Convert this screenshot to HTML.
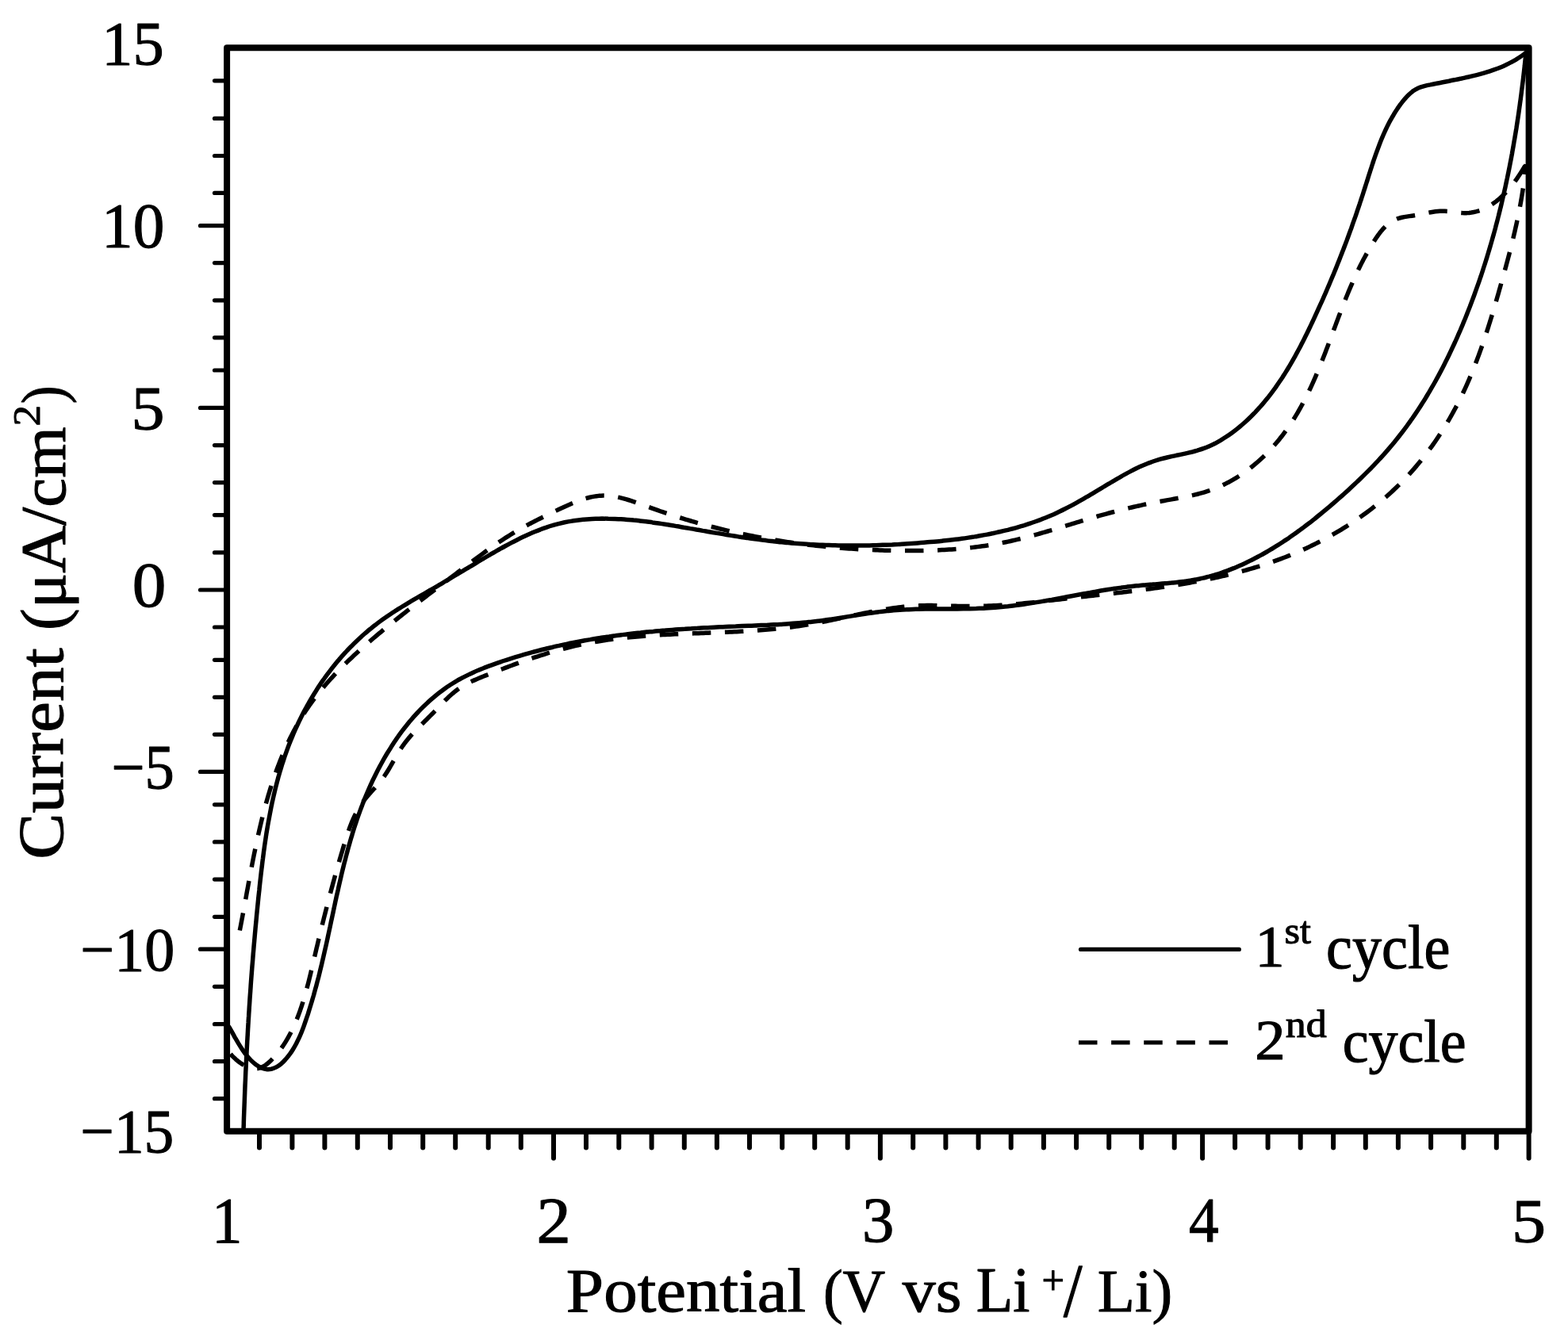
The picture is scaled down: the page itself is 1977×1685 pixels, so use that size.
<!DOCTYPE html>
<html><head><meta charset="utf-8"><title>Cyclic voltammogram</title>
<style>html,body{margin:0;padding:0;background:#fff;width:1977px;height:1685px;overflow:hidden}svg{display:block}</style>
</head><body>
<svg xmlns="http://www.w3.org/2000/svg" width="1977" height="1685" viewBox="0 0 1977 1685">
<defs><clipPath id="pc"><rect x="286.1" y="60.3" width="1641.5" height="1366.5"/></clipPath></defs>
<rect x="0" y="0" width="1977" height="1685" fill="#fff"/>
<g clip-path="url(#pc)">
<path d="M307.0,1426.0 C307.0,1424.7 307.2,1420.6 307.3,1417.9 C307.3,1415.3 307.4,1412.6 307.5,1409.9 C307.6,1407.2 307.7,1404.5 307.8,1401.9 C307.9,1399.2 308.0,1396.5 308.1,1393.8 C308.2,1391.2 308.3,1388.5 308.4,1385.8 C308.5,1383.1 308.6,1380.5 308.7,1377.8 C308.8,1375.1 308.9,1372.4 309.0,1369.8 C309.1,1367.1 309.3,1364.4 309.4,1361.8 C309.5,1359.1 309.6,1356.4 309.7,1353.8 C309.8,1351.1 310.0,1348.4 310.1,1345.8 C310.2,1343.1 310.3,1340.4 310.5,1337.8 C310.6,1335.1 310.7,1332.4 310.9,1329.8 C311.0,1327.1 311.1,1324.5 311.3,1321.8 C311.4,1319.1 311.6,1316.5 311.7,1313.8 C311.9,1311.2 312.0,1308.5 312.2,1305.8 C312.3,1303.2 312.5,1300.5 312.6,1297.9 C312.8,1295.2 312.9,1292.5 313.1,1289.9 C313.2,1287.2 313.4,1284.6 313.6,1281.9 C313.7,1279.3 313.9,1276.6 314.1,1274.0 C314.2,1271.3 314.4,1268.6 314.6,1266.0 C314.8,1263.3 314.9,1260.7 315.1,1258.0 C315.3,1255.4 315.5,1252.7 315.7,1250.1 C315.9,1247.4 316.1,1244.8 316.2,1242.1 C316.4,1239.4 316.6,1236.8 316.8,1234.1 C317.0,1231.5 317.2,1228.8 317.4,1226.2 C317.6,1223.5 317.8,1220.9 318.0,1218.2 C318.3,1215.6 318.5,1212.9 318.7,1210.3 C318.9,1207.6 319.1,1204.9 319.3,1202.3 C319.6,1199.6 319.8,1197.0 320.0,1194.3 C320.2,1191.7 320.5,1189.0 320.7,1186.4 C320.9,1183.7 321.2,1181.0 321.4,1178.4 C321.6,1175.7 321.9,1173.1 322.1,1170.4 C322.4,1167.8 322.6,1165.1 322.9,1162.4 C323.1,1159.8 323.4,1157.1 323.6,1154.5 C323.9,1151.8 324.1,1149.2 324.4,1146.5 C324.7,1143.8 324.9,1141.2 325.2,1138.5 C325.5,1135.8 325.7,1133.2 326.0,1130.5 C326.3,1127.9 326.6,1125.2 326.9,1122.5 C327.1,1119.9 327.4,1117.2 327.7,1114.5 C328.0,1111.9 328.3,1109.2 328.6,1106.5 C328.9,1103.9 329.2,1101.2 329.5,1098.6 C329.8,1095.9 330.2,1093.2 330.5,1090.6 C330.8,1087.9 331.1,1085.2 331.5,1082.6 C331.8,1079.9 332.2,1077.3 332.5,1074.6 C332.9,1071.9 333.3,1069.3 333.6,1066.6 C334.0,1064.0 334.4,1061.3 334.8,1058.7 C335.2,1056.0 335.6,1053.4 336.0,1050.7 C336.4,1048.1 336.9,1045.4 337.3,1042.8 C337.8,1040.2 338.2,1037.5 338.7,1034.9 C339.2,1032.3 339.7,1029.6 340.2,1027.0 C340.7,1024.4 341.2,1021.8 341.7,1019.2 C342.2,1016.5 342.8,1013.9 343.3,1011.3 C343.9,1008.7 344.5,1006.1 345.1,1003.5 C345.7,1000.9 346.3,998.3 346.9,995.8 C347.6,993.2 348.2,990.6 348.9,988.0 C349.5,985.4 350.2,982.9 350.9,980.3 C351.7,977.7 352.4,975.2 353.1,972.6 C353.9,970.1 354.7,967.6 355.4,965.0 C356.2,962.5 357.1,960.0 357.9,957.4 C358.7,954.9 359.6,952.4 360.5,949.9 C361.4,947.4 362.3,944.9 363.2,942.4 C364.1,939.9 365.1,937.4 366.1,935.0 C367.1,932.5 368.1,930.0 369.1,927.6 C370.1,925.1 371.2,922.7 372.3,920.2 C373.4,917.8 374.5,915.4 375.6,913.0 C376.7,910.6 377.9,908.2 379.1,905.8 C380.3,903.4 381.5,901.0 382.7,898.6 C383.9,896.3 385.2,893.9 386.5,891.6 C387.7,889.2 389.1,886.9 390.4,884.6 C391.7,882.3 393.1,880.0 394.5,877.7 C395.8,875.5 397.2,873.2 398.7,870.9 C400.1,868.7 401.6,866.5 403.0,864.3 C404.5,862.0 406.0,859.8 407.5,857.7 C409.1,855.5 410.6,853.3 412.2,851.2 C413.8,849.0 415.4,846.9 417.0,844.8 C418.6,842.7 420.3,840.6 422.0,838.5 C423.6,836.5 425.3,834.4 427.1,832.4 C428.8,830.4 430.5,828.4 432.3,826.4 C434.1,824.4 435.9,822.5 437.7,820.5 C439.5,818.6 441.4,816.7 443.3,814.8 C445.1,812.9 447.0,811.0 448.9,809.2 C450.9,807.3 452.8,805.5 454.8,803.7 C456.7,801.9 458.7,800.2 460.8,798.4 C462.8,796.7 464.8,794.9 466.9,793.3 C469.0,791.6 471.0,789.9 473.2,788.3 C475.3,786.6 477.4,785.0 479.6,783.4 C481.7,781.8 483.9,780.3 486.1,778.8 C488.3,777.2 490.5,775.7 492.8,774.2 C495.0,772.7 497.3,771.3 499.5,769.8 C501.8,768.4 504.1,766.9 506.4,765.5 C508.7,764.1 511.0,762.7 513.3,761.3 C515.6,759.9 517.9,758.5 520.2,757.2 C522.5,755.8 524.9,754.4 527.2,753.1 C529.5,751.7 531.8,750.4 534.2,749.1 C536.5,747.7 538.8,746.4 541.1,745.0 C543.4,743.7 545.8,742.4 548.1,741.1 C550.4,739.7 552.7,738.4 554.9,737.1 C557.2,735.7 559.5,734.4 561.8,733.0 C564.1,731.7 566.3,730.4 568.6,729.0 C570.8,727.7 573.1,726.3 575.3,725.0 C577.6,723.6 579.9,722.3 582.1,720.9 C584.4,719.6 586.6,718.2 588.9,716.9 C591.1,715.5 593.4,714.2 595.7,712.8 C597.9,711.4 600.2,710.1 602.5,708.7 C604.8,707.4 607.0,706.0 609.3,704.6 C611.6,703.3 614.0,701.9 616.3,700.5 C618.6,699.2 620.9,697.8 623.3,696.5 C625.6,695.1 628.0,693.8 630.3,692.4 C632.7,691.1 635.1,689.8 637.4,688.5 C639.8,687.2 642.2,685.9 644.6,684.6 C647.0,683.3 649.4,682.1 651.9,680.9 C654.3,679.7 656.7,678.5 659.2,677.3 C661.6,676.1 664.1,675.0 666.5,673.9 C669.0,672.8 671.5,671.7 673.9,670.7 C676.4,669.7 678.9,668.7 681.4,667.8 C683.9,666.8 686.4,665.9 689.0,665.1 C691.5,664.2 694.0,663.4 696.6,662.7 C699.1,661.9 701.7,661.2 704.2,660.6 C706.8,660.0 709.4,659.4 711.9,658.8 C714.5,658.3 717.1,657.8 719.7,657.4 C722.3,657.0 724.9,656.6 727.5,656.2 C730.1,655.9 732.7,655.6 735.4,655.3 C738.0,655.1 740.6,654.9 743.2,654.7 C745.9,654.5 748.5,654.4 751.1,654.3 C753.8,654.2 756.4,654.2 759.1,654.1 C761.7,654.1 764.4,654.1 767.0,654.2 C769.7,654.2 772.3,654.3 775.0,654.4 C777.6,654.5 780.3,654.6 782.9,654.8 C785.6,655.0 788.2,655.2 790.9,655.4 C793.5,655.6 796.2,655.8 798.8,656.1 C801.5,656.3 804.1,656.6 806.8,656.9 C809.4,657.2 812.0,657.5 814.7,657.8 C817.3,658.2 820.0,658.5 822.6,658.9 C825.3,659.2 827.9,659.6 830.5,660.0 C833.2,660.4 835.8,660.8 838.5,661.2 C841.1,661.6 843.7,662.1 846.4,662.5 C849.0,662.9 851.7,663.4 854.3,663.8 C857.0,664.3 859.6,664.7 862.2,665.2 C864.9,665.6 867.5,666.1 870.2,666.6 C872.8,667.0 875.5,667.5 878.1,668.0 C880.7,668.4 883.4,668.9 886.0,669.4 C888.7,669.8 891.3,670.3 894.0,670.7 C896.6,671.2 899.3,671.7 901.9,672.1 C904.6,672.6 907.2,673.0 909.9,673.4 C912.5,673.9 915.2,674.3 917.8,674.8 C920.5,675.2 923.1,675.6 925.8,676.0 C928.4,676.4 931.1,676.9 933.7,677.3 C936.4,677.7 939.0,678.1 941.7,678.4 C944.3,678.8 947.0,679.2 949.6,679.6 C952.3,679.9 955.0,680.3 957.6,680.6 C960.3,681.0 962.9,681.3 965.6,681.6 C968.2,682.0 970.9,682.3 973.5,682.6 C976.2,682.9 978.8,683.1 981.5,683.4 C984.1,683.7 986.8,683.9 989.4,684.2 C992.1,684.4 994.7,684.7 997.4,684.9 C1000.0,685.1 1002.7,685.3 1005.3,685.5 C1008.0,685.7 1010.6,685.9 1013.3,686.1 C1015.9,686.3 1018.6,686.4 1021.2,686.6 C1023.9,686.7 1026.5,686.9 1029.2,687.0 C1031.8,687.1 1034.5,687.2 1037.1,687.3 C1039.8,687.4 1042.4,687.5 1045.1,687.6 C1047.7,687.7 1050.4,687.8 1053.0,687.8 C1055.7,687.9 1058.3,687.9 1061.0,688.0 C1063.6,688.0 1066.3,688.0 1068.9,688.0 C1071.6,688.1 1074.3,688.1 1076.9,688.1 C1079.6,688.1 1082.2,688.0 1084.9,688.0 C1087.5,688.0 1090.2,688.0 1092.8,687.9 C1095.5,687.9 1098.2,687.8 1100.8,687.7 C1103.5,687.7 1106.1,687.6 1108.8,687.5 C1111.5,687.4 1114.1,687.3 1116.8,687.2 C1119.4,687.1 1122.1,687.0 1124.8,686.9 C1127.4,686.7 1130.1,686.6 1132.8,686.5 C1135.4,686.3 1138.1,686.2 1140.8,686.0 C1143.4,685.9 1146.1,685.7 1148.8,685.5 C1151.4,685.3 1154.1,685.1 1156.8,684.9 C1159.5,684.7 1162.1,684.5 1164.8,684.3 C1167.5,684.1 1170.2,683.9 1172.8,683.6 C1175.5,683.4 1178.2,683.2 1180.9,682.9 C1183.6,682.7 1186.2,682.4 1188.9,682.1 C1191.6,681.8 1194.3,681.5 1196.9,681.2 C1199.6,680.9 1202.3,680.6 1204.9,680.3 C1207.6,680.0 1210.3,679.6 1212.9,679.2 C1215.6,678.9 1218.3,678.5 1220.9,678.1 C1223.6,677.7 1226.2,677.3 1228.9,676.9 C1231.5,676.4 1234.2,676.0 1236.8,675.5 C1239.5,675.1 1242.1,674.6 1244.7,674.1 C1247.4,673.6 1250.0,673.0 1252.6,672.5 C1255.2,671.9 1257.8,671.4 1260.4,670.8 C1263.0,670.2 1265.6,669.6 1268.2,668.9 C1270.8,668.3 1273.4,667.6 1275.9,667.0 C1278.5,666.3 1281.1,665.6 1283.6,664.8 C1286.2,664.1 1288.7,663.3 1291.3,662.6 C1293.8,661.8 1296.3,661.0 1298.8,660.1 C1301.4,659.3 1303.9,658.4 1306.4,657.5 C1308.9,656.6 1311.3,655.7 1313.8,654.7 C1316.3,653.8 1318.7,652.8 1321.2,651.8 C1323.6,650.8 1326.1,649.7 1328.5,648.7 C1330.9,647.6 1333.3,646.5 1335.7,645.3 C1338.1,644.2 1340.5,643.0 1342.8,641.8 C1345.2,640.6 1347.6,639.4 1349.9,638.1 C1352.3,636.9 1354.6,635.6 1356.9,634.3 C1359.3,633.0 1361.6,631.7 1363.9,630.4 C1366.2,629.1 1368.5,627.7 1370.8,626.4 C1373.1,625.0 1375.4,623.7 1377.7,622.3 C1380.0,620.9 1382.3,619.5 1384.6,618.2 C1386.9,616.8 1389.2,615.4 1391.5,614.0 C1393.8,612.6 1396.1,611.3 1398.4,609.9 C1400.7,608.5 1402.9,607.1 1405.2,605.8 C1407.5,604.4 1409.8,603.1 1412.2,601.8 C1414.5,600.4 1416.8,599.1 1419.1,597.9 C1421.4,596.6 1423.8,595.3 1426.1,594.1 C1428.5,592.9 1430.8,591.7 1433.2,590.5 C1435.6,589.4 1438.0,588.3 1440.4,587.2 C1442.8,586.2 1445.3,585.2 1447.7,584.2 C1450.2,583.3 1452.6,582.4 1455.2,581.5 C1457.7,580.7 1460.2,579.9 1462.7,579.2 C1465.3,578.5 1467.9,577.8 1470.5,577.2 C1473.1,576.6 1475.7,576.0 1478.3,575.4 C1480.9,574.9 1483.6,574.3 1486.2,573.8 C1488.8,573.2 1491.4,572.7 1494.1,572.1 C1496.7,571.5 1499.3,570.9 1501.9,570.3 C1504.5,569.6 1507.1,568.9 1509.7,568.2 C1512.2,567.4 1514.8,566.6 1517.3,565.7 C1519.8,564.8 1522.3,563.8 1524.7,562.7 C1527.2,561.7 1529.6,560.5 1532.0,559.3 C1534.3,558.0 1536.7,556.7 1539.0,555.4 C1541.3,554.0 1543.6,552.6 1545.8,551.1 C1548.1,549.6 1550.3,548.1 1552.5,546.5 C1554.7,544.9 1556.8,543.3 1558.9,541.6 C1561.0,540.0 1563.1,538.2 1565.1,536.5 C1567.1,534.8 1569.1,533.0 1571.1,531.2 C1573.1,529.4 1575.0,527.6 1576.9,525.7 C1578.8,523.9 1580.6,522.0 1582.5,520.1 C1584.3,518.2 1586.1,516.2 1587.9,514.2 C1589.7,512.3 1591.4,510.3 1593.1,508.2 C1594.8,506.2 1596.5,504.2 1598.2,502.1 C1599.8,500.0 1601.4,497.9 1603.0,495.8 C1604.6,493.7 1606.2,491.5 1607.8,489.4 C1609.3,487.2 1610.8,485.0 1612.3,482.8 C1613.8,480.6 1615.3,478.4 1616.8,476.2 C1618.2,473.9 1619.7,471.7 1621.1,469.4 C1622.5,467.1 1623.9,464.8 1625.3,462.5 C1626.6,460.2 1628.0,457.9 1629.3,455.6 C1630.6,453.3 1632.0,450.9 1633.3,448.6 C1634.5,446.2 1635.8,443.9 1637.1,441.5 C1638.4,439.1 1639.6,436.8 1640.8,434.4 C1642.1,432.0 1643.3,429.6 1644.5,427.2 C1645.7,424.8 1646.9,422.4 1648.1,420.0 C1649.3,417.6 1650.4,415.2 1651.6,412.7 C1652.7,410.3 1653.9,407.9 1655.0,405.5 C1656.2,403.1 1657.3,400.6 1658.4,398.2 C1659.5,395.8 1660.6,393.4 1661.7,390.9 C1662.8,388.5 1663.9,386.1 1665.0,383.7 C1666.1,381.3 1667.2,378.8 1668.3,376.4 C1669.3,374.0 1670.4,371.6 1671.5,369.1 C1672.5,366.7 1673.6,364.3 1674.6,361.8 C1675.6,359.4 1676.7,357.0 1677.7,354.5 C1678.7,352.1 1679.7,349.7 1680.8,347.2 C1681.8,344.8 1682.8,342.3 1683.8,339.9 C1684.8,337.4 1685.7,335.0 1686.7,332.5 C1687.7,330.1 1688.7,327.6 1689.6,325.2 C1690.6,322.7 1691.6,320.3 1692.5,317.8 C1693.5,315.3 1694.4,312.8 1695.4,310.4 C1696.3,307.9 1697.2,305.4 1698.2,302.9 C1699.1,300.4 1700.0,298.0 1700.9,295.5 C1701.8,293.0 1702.7,290.5 1703.7,288.0 C1704.6,285.5 1705.4,282.9 1706.3,280.4 C1707.2,277.9 1708.1,275.4 1709.0,272.9 C1709.9,270.3 1710.7,267.8 1711.6,265.2 C1712.5,262.7 1713.3,260.2 1714.2,257.6 C1715.0,255.0 1715.9,252.5 1716.7,249.9 C1717.6,247.3 1718.4,244.8 1719.2,242.2 C1720.1,239.6 1720.9,237.0 1721.7,234.4 C1722.5,231.8 1723.4,229.2 1724.2,226.6 C1725.0,224.0 1725.8,221.4 1726.7,218.7 C1727.5,216.1 1728.3,213.5 1729.2,210.9 C1730.0,208.3 1730.9,205.7 1731.7,203.1 C1732.6,200.6 1733.5,198.0 1734.4,195.4 C1735.3,192.8 1736.2,190.3 1737.2,187.7 C1738.1,185.2 1739.1,182.7 1740.0,180.2 C1741.0,177.7 1742.0,175.2 1743.1,172.7 C1744.1,170.2 1745.2,167.8 1746.3,165.4 C1747.4,163.0 1748.6,160.6 1749.7,158.2 C1750.9,155.8 1752.1,153.5 1753.4,151.2 C1754.6,148.9 1755.9,146.6 1757.3,144.4 C1758.6,142.2 1760.0,140.0 1761.5,137.8 C1762.9,135.6 1764.4,133.5 1765.9,131.4 C1767.5,129.4 1769.0,127.3 1770.7,125.4 C1772.4,123.4 1774.1,121.4 1775.9,119.7 C1777.8,117.9 1779.7,116.3 1781.7,114.8 C1783.8,113.4 1786.0,112.2 1788.3,111.1 C1790.6,110.1 1793.1,109.4 1795.6,108.7 C1798.1,108.0 1800.7,107.4 1803.3,106.9 C1805.9,106.3 1808.5,105.8 1811.1,105.3 C1813.8,104.7 1816.4,104.2 1819.0,103.7 C1821.7,103.2 1824.3,102.7 1827.0,102.2 C1829.6,101.6 1832.3,101.1 1834.9,100.6 C1837.6,100.1 1840.2,99.5 1842.8,99.0 C1845.5,98.4 1848.1,97.9 1850.8,97.3 C1853.4,96.7 1856.0,96.1 1858.6,95.4 C1861.2,94.8 1863.8,94.1 1866.4,93.4 C1869.0,92.7 1871.6,92.0 1874.1,91.2 C1876.7,90.4 1879.2,89.6 1881.7,88.7 C1884.2,87.8 1886.7,86.9 1889.2,86.0 C1891.7,85.0 1894.1,84.0 1896.5,82.9 C1899.0,81.8 1901.3,80.6 1903.7,79.4 C1906.1,78.2 1908.4,76.9 1910.7,75.6 C1913.0,74.2 1915.2,72.8 1917.5,71.3 C1919.7,69.8 1922.9,67.3 1924.0,66.5" fill="none" stroke="#000" stroke-width="5.5" stroke-linecap="round" stroke-linejoin="round"/>
<path d="M1924.0,66.5 C1923.9,67.8 1923.5,71.8 1923.2,74.5 C1922.9,77.1 1922.6,79.8 1922.4,82.4 C1922.1,85.1 1921.8,87.7 1921.5,90.4 C1921.2,93.0 1920.9,95.7 1920.6,98.3 C1920.3,101.0 1920.0,103.7 1919.6,106.3 C1919.3,109.0 1919.0,111.6 1918.6,114.3 C1918.3,116.9 1918.0,119.6 1917.6,122.2 C1917.3,124.9 1916.9,127.5 1916.5,130.2 C1916.2,132.8 1915.8,135.5 1915.4,138.1 C1915.1,140.7 1914.7,143.4 1914.3,146.0 C1913.9,148.7 1913.5,151.3 1913.1,154.0 C1912.7,156.6 1912.3,159.3 1911.9,161.9 C1911.4,164.5 1911.0,167.2 1910.6,169.8 C1910.1,172.5 1909.7,175.1 1909.2,177.7 C1908.8,180.4 1908.3,183.0 1907.9,185.6 C1907.4,188.3 1906.9,190.9 1906.5,193.5 C1906.0,196.2 1905.5,198.8 1905.0,201.4 C1904.5,204.0 1904.0,206.7 1903.5,209.3 C1903.0,211.9 1902.4,214.5 1901.9,217.2 C1901.4,219.8 1900.8,222.4 1900.3,225.0 C1899.7,227.6 1899.2,230.2 1898.6,232.9 C1898.1,235.5 1897.5,238.1 1896.9,240.7 C1896.3,243.3 1895.7,245.9 1895.1,248.5 C1894.5,251.1 1893.9,253.7 1893.3,256.3 C1892.7,258.9 1892.1,261.5 1891.4,264.1 C1890.8,266.7 1890.1,269.3 1889.5,271.9 C1888.8,274.5 1888.2,277.1 1887.5,279.7 C1886.8,282.2 1886.1,284.8 1885.5,287.4 C1884.8,290.0 1884.1,292.6 1883.4,295.1 C1882.6,297.7 1881.9,300.3 1881.2,302.9 C1880.5,305.4 1879.7,308.0 1879.0,310.6 C1878.2,313.1 1877.5,315.7 1876.7,318.2 C1875.9,320.8 1875.1,323.4 1874.4,325.9 C1873.6,328.5 1872.8,331.0 1872.0,333.5 C1871.1,336.1 1870.3,338.6 1869.5,341.2 C1868.7,343.7 1867.8,346.3 1867.0,348.8 C1866.1,351.3 1865.3,353.8 1864.4,356.4 C1863.5,358.9 1862.6,361.4 1861.7,363.9 C1860.8,366.5 1859.9,369.0 1859.0,371.5 C1858.1,374.0 1857.2,376.5 1856.2,379.0 C1855.3,381.5 1854.3,384.0 1853.4,386.5 C1852.4,389.0 1851.4,391.5 1850.4,394.0 C1849.5,396.5 1848.5,398.9 1847.5,401.4 C1846.5,403.9 1845.4,406.4 1844.4,408.9 C1843.4,411.3 1842.3,413.8 1841.3,416.3 C1840.2,418.7 1839.2,421.2 1838.1,423.6 C1837.0,426.1 1835.9,428.5 1834.8,431.0 C1833.7,433.4 1832.6,435.8 1831.4,438.3 C1830.3,440.7 1829.2,443.1 1828.0,445.5 C1826.9,447.9 1825.7,450.4 1824.5,452.8 C1823.3,455.2 1822.1,457.5 1820.9,459.9 C1819.7,462.3 1818.5,464.7 1817.2,467.1 C1816.0,469.4 1814.7,471.8 1813.5,474.1 C1812.2,476.5 1810.9,478.8 1809.6,481.2 C1808.3,483.5 1807.0,485.8 1805.6,488.2 C1804.3,490.5 1803.0,492.8 1801.6,495.1 C1800.2,497.4 1798.9,499.7 1797.5,501.9 C1796.1,504.2 1794.7,506.5 1793.2,508.7 C1791.8,511.0 1790.4,513.2 1788.9,515.5 C1787.5,517.7 1786.0,519.9 1784.5,522.1 C1783.0,524.3 1781.5,526.5 1780.0,528.7 C1778.4,530.9 1776.9,533.1 1775.3,535.2 C1773.8,537.4 1772.2,539.5 1770.6,541.6 C1769.0,543.8 1767.4,545.9 1765.7,548.0 C1764.1,550.1 1762.5,552.2 1760.8,554.3 C1759.1,556.4 1757.4,558.4 1755.7,560.5 C1754.0,562.5 1752.3,564.5 1750.5,566.6 C1748.8,568.6 1747.0,570.6 1745.3,572.6 C1743.5,574.6 1741.7,576.6 1739.9,578.5 C1738.1,580.5 1736.3,582.5 1734.4,584.4 C1732.6,586.3 1730.7,588.3 1728.9,590.2 C1727.0,592.1 1725.1,594.0 1723.2,595.9 C1721.3,597.8 1719.4,599.7 1717.5,601.5 C1715.6,603.4 1713.7,605.3 1711.7,607.1 C1709.8,609.0 1707.8,610.8 1705.9,612.6 C1703.9,614.5 1702.0,616.3 1700.0,618.1 C1698.0,619.9 1696.0,621.7 1694.0,623.5 C1692.0,625.3 1690.0,627.0 1688.0,628.8 C1686.0,630.6 1684.0,632.3 1681.9,634.1 C1679.9,635.8 1677.9,637.6 1675.8,639.3 C1673.8,641.0 1671.7,642.7 1669.7,644.4 C1667.6,646.2 1665.6,647.9 1663.5,649.5 C1661.4,651.2 1659.3,652.9 1657.3,654.6 C1655.2,656.2 1653.1,657.9 1651.0,659.5 C1648.8,661.1 1646.7,662.7 1644.6,664.4 C1642.5,666.0 1640.3,667.5 1638.2,669.1 C1636.0,670.7 1633.9,672.2 1631.7,673.8 C1629.5,675.3 1627.3,676.8 1625.1,678.4 C1622.9,679.9 1620.7,681.3 1618.5,682.8 C1616.3,684.3 1614.0,685.7 1611.8,687.2 C1609.5,688.6 1607.2,690.0 1605.0,691.4 C1602.7,692.8 1600.4,694.1 1598.1,695.5 C1595.8,696.8 1593.4,698.2 1591.1,699.5 C1588.7,700.7 1586.4,702.0 1584.0,703.3 C1581.6,704.5 1579.2,705.8 1576.8,706.9 C1574.4,708.1 1572.0,709.3 1569.6,710.5 C1567.1,711.6 1564.7,712.7 1562.2,713.8 C1559.8,714.8 1557.3,715.9 1554.8,716.9 C1552.3,717.9 1549.8,718.9 1547.3,719.8 C1544.8,720.7 1542.3,721.6 1539.8,722.5 C1537.2,723.4 1534.7,724.2 1532.1,725.0 C1529.6,725.7 1527.0,726.5 1524.4,727.2 C1521.9,727.8 1519.3,728.5 1516.7,729.1 C1514.1,729.7 1511.5,730.2 1508.9,730.8 C1506.3,731.3 1503.6,731.7 1501.0,732.1 C1498.4,732.6 1495.7,732.9 1493.1,733.3 C1490.5,733.6 1487.8,734.0 1485.2,734.3 C1482.5,734.6 1479.8,734.8 1477.2,735.1 C1474.5,735.3 1471.9,735.6 1469.2,735.8 C1466.5,736.0 1463.9,736.2 1461.2,736.4 C1458.5,736.6 1455.8,736.8 1453.2,737.1 C1450.5,737.3 1447.8,737.5 1445.1,737.7 C1442.5,737.9 1439.8,738.2 1437.1,738.4 C1434.5,738.7 1431.8,738.9 1429.1,739.2 C1426.5,739.5 1423.8,739.8 1421.2,740.1 C1418.5,740.5 1415.8,740.8 1413.2,741.2 C1410.5,741.5 1407.9,741.9 1405.2,742.3 C1402.6,742.7 1399.9,743.1 1397.3,743.5 C1394.6,744.0 1392.0,744.4 1389.4,744.8 C1386.7,745.3 1384.1,745.7 1381.4,746.2 C1378.8,746.6 1376.2,747.1 1373.5,747.6 C1370.9,748.1 1368.3,748.5 1365.6,749.0 C1363.0,749.5 1360.4,750.0 1357.7,750.5 C1355.1,751.0 1352.5,751.5 1349.8,752.0 C1347.2,752.5 1344.6,753.0 1341.9,753.4 C1339.3,753.9 1336.7,754.4 1334.0,754.9 C1331.4,755.4 1328.8,755.9 1326.1,756.4 C1323.5,756.8 1320.9,757.3 1318.2,757.8 C1315.6,758.2 1313.0,758.7 1310.3,759.1 C1307.7,759.6 1305.1,760.0 1302.4,760.4 C1299.8,760.8 1297.2,761.2 1294.5,761.6 C1291.9,762.0 1289.2,762.4 1286.6,762.8 C1283.9,763.1 1281.3,763.5 1278.7,763.8 C1276.0,764.1 1273.4,764.5 1270.7,764.8 C1268.1,765.0 1265.4,765.3 1262.8,765.6 C1260.1,765.8 1257.4,766.0 1254.8,766.2 C1252.1,766.4 1249.5,766.6 1246.8,766.8 C1244.1,766.9 1241.5,767.1 1238.8,767.2 C1236.1,767.3 1233.5,767.4 1230.8,767.5 C1228.1,767.5 1225.4,767.6 1222.8,767.7 C1220.1,767.7 1217.4,767.8 1214.7,767.8 C1212.1,767.8 1209.4,767.8 1206.7,767.9 C1204.0,767.9 1201.3,767.9 1198.7,767.9 C1196.0,767.9 1193.3,767.9 1190.6,767.9 C1187.9,767.9 1185.3,767.9 1182.6,767.9 C1179.9,767.9 1177.2,767.9 1174.5,768.0 C1171.9,768.0 1169.2,768.0 1166.5,768.1 C1163.8,768.1 1161.2,768.1 1158.5,768.2 C1155.8,768.3 1153.1,768.3 1150.5,768.4 C1147.8,768.5 1145.1,768.6 1142.5,768.8 C1139.8,768.9 1137.1,769.0 1134.5,769.2 C1131.8,769.4 1129.2,769.6 1126.5,769.8 C1123.8,770.0 1121.2,770.3 1118.5,770.5 C1115.9,770.8 1113.2,771.1 1110.6,771.4 C1108.0,771.8 1105.3,772.1 1102.7,772.5 C1100.0,772.8 1097.4,773.2 1094.8,773.6 C1092.1,774.0 1089.5,774.4 1086.9,774.9 C1084.2,775.3 1081.6,775.7 1079.0,776.1 C1076.3,776.6 1073.7,777.0 1071.1,777.4 C1068.4,777.9 1065.8,778.3 1063.2,778.7 C1060.5,779.2 1057.9,779.6 1055.3,780.0 C1052.6,780.4 1050.0,780.8 1047.4,781.2 C1044.7,781.6 1042.1,782.0 1039.4,782.3 C1036.8,782.7 1034.1,783.0 1031.5,783.3 C1028.9,783.6 1026.2,783.9 1023.6,784.2 C1020.9,784.5 1018.2,784.7 1015.6,785.0 C1012.9,785.3 1010.3,785.5 1007.6,785.7 C1005.0,785.9 1002.3,786.1 999.6,786.3 C997.0,786.5 994.3,786.7 991.6,786.9 C989.0,787.1 986.3,787.2 983.6,787.4 C981.0,787.6 978.3,787.7 975.6,787.8 C973.0,788.0 970.3,788.1 967.6,788.3 C965.0,788.4 962.3,788.5 959.6,788.6 C956.9,788.7 954.3,788.9 951.6,789.0 C948.9,789.1 946.3,789.2 943.6,789.3 C940.9,789.4 938.2,789.5 935.6,789.6 C932.9,789.7 930.2,789.8 927.5,790.0 C924.9,790.1 922.2,790.2 919.5,790.3 C916.9,790.4 914.2,790.5 911.5,790.7 C908.8,790.8 906.2,790.9 903.5,791.0 C900.8,791.2 898.2,791.3 895.5,791.4 C892.8,791.6 890.1,791.7 887.5,791.8 C884.8,792.0 882.1,792.1 879.5,792.3 C876.8,792.4 874.1,792.6 871.5,792.8 C868.8,792.9 866.1,793.1 863.5,793.3 C860.8,793.4 858.2,793.6 855.5,793.8 C852.8,794.0 850.2,794.2 847.5,794.4 C844.8,794.6 842.2,794.8 839.5,795.0 C836.9,795.2 834.2,795.5 831.5,795.7 C828.9,795.9 826.2,796.1 823.6,796.4 C820.9,796.6 818.2,796.9 815.6,797.1 C812.9,797.4 810.3,797.7 807.6,798.0 C805.0,798.2 802.3,798.5 799.7,798.8 C797.0,799.1 794.4,799.4 791.7,799.7 C789.1,800.1 786.4,800.4 783.8,800.7 C781.1,801.1 778.5,801.4 775.8,801.8 C773.2,802.1 770.5,802.5 767.9,802.9 C765.3,803.2 762.6,803.6 760.0,804.0 C757.3,804.4 754.7,804.9 752.1,805.3 C749.4,805.7 746.8,806.1 744.2,806.6 C741.5,807.0 738.9,807.5 736.2,808.0 C733.6,808.5 731.0,809.0 728.4,809.5 C725.7,810.0 723.1,810.5 720.5,811.0 C717.8,811.5 715.2,812.1 712.6,812.6 C710.0,813.2 707.4,813.8 704.7,814.4 C702.1,814.9 699.5,815.5 696.9,816.2 C694.3,816.8 691.7,817.4 689.0,818.0 C686.4,818.7 683.8,819.3 681.2,820.0 C678.6,820.7 676.0,821.4 673.4,822.0 C670.9,822.7 668.3,823.5 665.7,824.2 C663.1,824.9 660.5,825.6 657.9,826.4 C655.4,827.1 652.8,827.9 650.2,828.7 C647.7,829.5 645.1,830.3 642.5,831.1 C640.0,831.9 637.4,832.7 634.9,833.5 C632.4,834.4 629.8,835.2 627.3,836.1 C624.8,837.0 622.3,837.9 619.8,838.8 C617.3,839.7 614.8,840.6 612.3,841.6 C609.8,842.6 607.3,843.5 604.9,844.6 C602.5,845.6 600.0,846.6 597.6,847.7 C595.2,848.8 592.8,849.9 590.4,851.1 C588.1,852.2 585.7,853.4 583.4,854.6 C581.1,855.9 578.8,857.1 576.5,858.4 C574.2,859.7 572.0,861.1 569.8,862.5 C567.5,863.9 565.4,865.4 563.2,866.8 C561.0,868.3 558.9,869.9 556.8,871.5 C554.7,873.0 552.6,874.6 550.5,876.3 C548.5,878.0 546.5,879.7 544.5,881.4 C542.5,883.1 540.5,884.9 538.6,886.7 C536.6,888.5 534.7,890.4 532.8,892.3 C530.9,894.1 529.1,896.0 527.2,898.0 C525.4,899.9 523.6,901.9 521.8,903.9 C520.0,905.9 518.3,908.0 516.5,910.0 C514.8,912.1 513.1,914.2 511.5,916.3 C509.8,918.4 508.1,920.6 506.5,922.7 C504.9,924.9 503.3,927.1 501.7,929.3 C500.2,931.5 498.6,933.8 497.1,936.0 C495.6,938.3 494.1,940.6 492.7,942.9 C491.2,945.2 489.8,947.5 488.4,949.8 C487.0,952.1 485.6,954.5 484.2,956.9 C482.9,959.2 481.6,961.6 480.3,964.0 C479.0,966.4 477.7,968.8 476.4,971.2 C475.2,973.6 474.0,976.0 472.8,978.5 C471.6,980.9 470.4,983.3 469.2,985.8 C468.1,988.2 467.0,990.7 465.9,993.1 C464.8,995.6 463.7,998.1 462.7,1000.5 C461.6,1003.0 460.6,1005.5 459.6,1007.9 C458.6,1010.4 457.6,1012.9 456.7,1015.4 C455.7,1017.9 454.8,1020.4 453.9,1022.9 C453.0,1025.4 452.1,1027.9 451.2,1030.4 C450.3,1032.9 449.5,1035.4 448.7,1037.9 C447.8,1040.5 447.0,1043.0 446.2,1045.5 C445.4,1048.0 444.6,1050.6 443.9,1053.1 C443.1,1055.6 442.3,1058.2 441.6,1060.7 C440.9,1063.3 440.2,1065.8 439.4,1068.4 C438.7,1070.9 438.0,1073.5 437.4,1076.0 C436.7,1078.6 436.0,1081.1 435.4,1083.7 C434.7,1086.2 434.0,1088.8 433.4,1091.4 C432.8,1094.0 432.1,1096.5 431.5,1099.1 C430.9,1101.7 430.3,1104.2 429.7,1106.8 C429.1,1109.4 428.5,1112.0 427.9,1114.6 C427.3,1117.2 426.7,1119.7 426.2,1122.3 C425.6,1124.9 425.0,1127.5 424.4,1130.1 C423.9,1132.7 423.3,1135.3 422.7,1137.9 C422.2,1140.5 421.6,1143.1 421.1,1145.7 C420.5,1148.3 420.0,1150.9 419.4,1153.5 C418.9,1156.1 418.3,1158.7 417.7,1161.3 C417.2,1163.9 416.6,1166.5 416.1,1169.1 C415.5,1171.7 415.0,1174.3 414.4,1176.9 C413.8,1179.5 413.3,1182.2 412.7,1184.8 C412.1,1187.4 411.6,1190.0 411.0,1192.6 C410.4,1195.2 409.8,1197.8 409.2,1200.4 C408.6,1203.0 408.0,1205.6 407.4,1208.3 C406.8,1210.9 406.2,1213.5 405.6,1216.1 C405.0,1218.7 404.3,1221.3 403.7,1223.9 C403.1,1226.5 402.4,1229.1 401.8,1231.7 C401.1,1234.4 400.4,1237.0 399.7,1239.6 C399.1,1242.2 398.4,1244.8 397.6,1247.4 C396.9,1250.0 396.2,1252.6 395.5,1255.2 C394.7,1257.8 394.0,1260.4 393.2,1263.0 C392.4,1265.6 391.6,1268.2 390.8,1270.8 C390.0,1273.4 389.2,1276.0 388.4,1278.6 C387.5,1281.2 386.7,1283.8 385.8,1286.3 C384.9,1288.9 384.0,1291.5 383.1,1294.1 C382.2,1296.6 381.2,1299.2 380.2,1301.7 C379.1,1304.3 378.1,1306.8 377.0,1309.2 C375.8,1311.7 374.6,1314.1 373.4,1316.5 C372.1,1318.9 370.8,1321.2 369.4,1323.5 C368.0,1325.8 366.5,1328.1 364.9,1330.2 C363.3,1332.4 361.6,1334.5 359.8,1336.4 C358.1,1338.4 356.2,1340.2 354.3,1341.8 C352.4,1343.4 350.4,1344.8 348.4,1345.9 C346.3,1347.0 344.3,1347.8 342.1,1348.3 C340.0,1348.7 337.8,1348.8 335.7,1348.5 C333.5,1348.2 331.3,1347.5 329.1,1346.6 C327.0,1345.6 324.8,1344.3 322.7,1342.8 C320.6,1341.2 318.5,1339.4 316.5,1337.4 C314.5,1335.4 312.5,1333.1 310.6,1330.8 C308.8,1328.5 307.0,1325.9 305.3,1323.4 C303.6,1320.8 302.0,1318.2 300.4,1315.6 C298.9,1313.1 297.4,1310.5 296.0,1308.1 C294.7,1305.7 293.4,1303.3 292.2,1301.2 C291.0,1299.1 289.5,1296.5 288.9,1295.5" fill="none" stroke="#000" stroke-width="5.5" stroke-linecap="round" stroke-linejoin="round"/>
<path d="M302.30,1173.60 L302.85,1170.75 L303.40,1167.90 L303.95,1165.05 L304.49,1162.18 L305.04,1159.31 L305.58,1156.43 L306.12,1153.54 L306.65,1150.64 L307.19,1147.74 L307.73,1144.83 L308.26,1141.92 L308.80,1139.00 L309.33,1136.08 L309.87,1133.15 L310.41,1130.21 L310.94,1127.27 L311.48,1124.33 L312.02,1121.38 L312.57,1118.43 L313.11,1115.47 L313.66,1112.51 L314.21,1109.55 L314.76,1106.58 L315.32,1103.61 L315.88,1100.64 L316.44,1097.67 L317.01,1094.69 L317.58,1091.72 L318.16,1088.74 L318.75,1085.76 L319.33,1082.78 L319.93,1079.80 L320.53,1076.81 L321.14,1073.83 L321.75,1070.85 L322.37,1067.87 L323.00,1064.89 L323.64,1061.91 L324.28,1058.93 L324.93,1055.95 L325.59,1052.97 L326.26,1050.00 L326.94,1047.02 L327.63,1044.05 L328.33,1041.09 L329.04,1038.12 L329.75,1035.16 L330.48,1032.20 L331.22,1029.25 L331.97,1026.30 L332.74,1023.35 L333.51,1020.41 L334.30,1017.47 L335.09,1014.54 L335.91,1011.61 L336.73,1008.69 L337.57,1005.77 L338.42,1002.86 L339.28,999.95 L340.16,997.06 L341.06,994.16 L341.97,991.28 L342.89,988.40 L343.83,985.53 L344.78,982.67 L345.75,979.81 L346.74,976.97 L347.74,974.13 L348.76,971.30 L349.80,968.48 L350.86,965.67 L351.93,962.87 L353.02,960.07 L354.13,957.29 L355.26,954.52 L356.41,951.76 L357.57,949.01 L358.76,946.27 L359.96,943.54 L361.19,940.82 L362.44,938.11 L363.70,935.42 L364.99,932.74 L366.30,930.07 L367.63,927.41 L368.99,924.77 L370.36,922.14 L371.76,919.52 L373.18,916.92 L374.63,914.33 L376.09,911.76 L377.59,909.20 L379.10,906.65 L380.64,904.12 L382.21,901.61 L383.80,899.11 L385.41,896.62 L387.05,894.15 L388.72,891.70 L390.41,889.27 L392.13,886.85 L393.87,884.44 L395.63,882.05 L397.42,879.68 L399.23,877.32 L401.07,874.98 L402.93,872.65 L404.80,870.34 L406.70,868.04 L408.62,865.76 L410.56,863.49 L412.52,861.23 L414.50,858.99 L416.50,856.76 L418.52,854.54 L420.55,852.34 L422.60,850.15 L424.67,847.97 L426.75,845.80 L428.85,843.65 L430.96,841.51 L433.09,839.38 L435.23,837.26 L437.39,835.15 L439.56,833.06 L441.74,830.97 L443.93,828.90 L446.14,826.83 L448.35,824.78 L450.58,822.74 L452.82,820.71 L455.07,818.68 L457.32,816.67 L459.59,814.67 L461.86,812.67 L464.14,810.69 L466.43,808.71 L468.72,806.74 L471.02,804.78 L473.32,802.83 L475.64,800.89 L477.95,798.95 L480.27,797.02 L482.59,795.10 L484.92,793.19 L487.25,791.28 L489.58,789.38 L491.92,787.49 L494.26,785.60 L496.60,783.72 L498.94,781.85 L501.29,779.98 L503.64,778.12 L505.99,776.26 L508.34,774.40 L510.70,772.56 L513.06,770.71 L515.42,768.87 L517.78,767.04 L520.15,765.20 L522.51,763.38 L524.88,761.55 L527.25,759.73 L529.63,757.91 L532.00,756.09 L534.38,754.28 L536.75,752.47 L539.13,750.66 L541.51,748.85 L543.90,747.05 L546.28,745.24 L548.66,743.44 L551.05,741.64 L553.43,739.83 L555.82,738.03 L558.21,736.23 L560.59,734.43 L562.98,732.63 L565.37,730.83 L567.76,729.02 L570.15,727.22 L572.54,725.42 L574.93,723.61 L577.32,721.80 L579.72,720.00 L582.11,718.18 L584.50,716.37 L586.89,714.56 L589.28,712.74 L591.68,710.93 L594.07,709.12 L596.47,707.32 L598.88,705.51 L601.28,703.71 L603.69,701.92 L606.11,700.13 L608.52,698.35 L610.95,696.58 L613.38,694.82 L615.81,693.07 L618.26,691.33 L620.71,689.60 L623.16,687.88 L625.63,686.18 L628.10,684.49 L630.59,682.82 L633.08,681.17 L635.58,679.53 L638.09,677.91 L640.62,676.31 L643.15,674.73 L645.70,673.17 L648.26,671.63 L650.83,670.11 L653.41,668.61 L656.00,667.13 L658.61,665.67 L661.22,664.23 L663.85,662.80 L666.49,661.39 L669.14,659.99 L671.79,658.61 L674.46,657.23 L677.14,655.87 L679.83,654.51 L682.52,653.17 L685.23,651.83 L687.94,650.49 L690.66,649.17 L693.39,647.84 L696.13,646.52 L698.87,645.20 L701.63,643.89 L704.39,642.57 L707.15,641.25 L709.93,639.95 L712.71,638.66 L715.49,637.39 L718.29,636.15 L721.08,634.95 L723.89,633.78 L726.69,632.66 L729.51,631.60 L732.33,630.59 L735.15,629.64 L737.97,628.77 L740.80,627.97 L743.64,627.26 L746.47,626.64 L749.31,626.11 L752.16,625.68 L755.00,625.36 L757.85,625.16 L760.70,625.07 L763.55,625.10 L766.40,625.24 L769.26,625.49 L772.12,625.84 L774.97,626.28 L777.83,626.80 L780.70,627.41 L783.56,628.09 L786.43,628.83 L789.29,629.64 L792.16,630.49 L795.03,631.40 L797.91,632.35 L800.78,633.33 L803.65,634.34 L806.53,635.38 L809.41,636.42 L812.29,637.48 L815.17,638.54 L818.05,639.60 L820.93,640.65 L823.82,641.69 L826.70,642.71 L829.59,643.72 L832.48,644.73 L835.37,645.72 L838.26,646.70 L841.15,647.67 L844.04,648.63 L846.94,649.57 L849.83,650.51 L852.73,651.43 L855.63,652.35 L858.53,653.25 L861.43,654.14 L864.33,655.02 L867.23,655.89 L870.14,656.75 L873.04,657.60 L875.95,658.44 L878.86,659.27 L881.76,660.08 L884.67,660.89 L887.59,661.68 L890.50,662.47 L893.41,663.24 L896.33,664.01 L899.24,664.76 L902.16,665.51 L905.08,666.24 L908.00,666.96 L910.92,667.67 L913.85,668.38 L916.77,669.07 L919.69,669.75 L922.62,670.42 L925.55,671.08 L928.48,671.73 L931.41,672.38 L934.34,673.01 L937.27,673.63 L940.20,674.24 L943.14,674.84 L946.08,675.43 L949.01,676.02 L951.95,676.59 L954.89,677.15 L957.83,677.70 L960.77,678.25 L963.72,678.78 L966.66,679.31 L969.61,679.82 L972.56,680.33 L975.50,680.82 L978.45,681.31 L981.41,681.79 L984.36,682.25 L987.31,682.71 L990.27,683.16 L993.22,683.60 L996.18,684.03 L999.14,684.45 L1002.10,684.86 L1005.06,685.27 L1008.02,685.66 L1010.98,686.05 L1013.95,686.42 L1016.91,686.79 L1019.88,687.15 L1022.85,687.50 L1025.81,687.84 L1028.78,688.17 L1031.76,688.49 L1034.73,688.81 L1037.70,689.11 L1040.68,689.41 L1043.65,689.70 L1046.63,689.98 L1049.61,690.25 L1052.59,690.51 L1055.57,690.77 L1058.56,691.01 L1061.54,691.25 L1064.52,691.48 L1067.51,691.70 L1070.50,691.91 L1073.49,692.12 L1076.48,692.31 L1079.47,692.50 L1082.46,692.68 L1085.45,692.85 L1088.45,693.02 L1091.44,693.17 L1094.44,693.32 L1097.44,693.46 L1100.44,693.59 L1103.44,693.72 L1106.44,693.83 L1109.44,693.94 L1112.45,694.04 L1115.45,694.13 L1118.46,694.22 L1121.47,694.30 L1124.48,694.37 L1127.49,694.43 L1130.50,694.48 L1133.51,694.53 L1136.52,694.56 L1139.54,694.59 L1142.55,694.61 L1145.57,694.62 L1148.58,694.62 L1151.60,694.61 L1154.61,694.59 L1157.63,694.56 L1160.64,694.52 L1163.66,694.47 L1166.67,694.40 L1169.68,694.33 L1172.70,694.24 L1175.71,694.14 L1178.72,694.03 L1181.73,693.91 L1184.74,693.77 L1187.75,693.62 L1190.76,693.46 L1193.76,693.29 L1196.77,693.10 L1199.77,692.89 L1202.77,692.67 L1205.77,692.44 L1208.76,692.19 L1211.76,691.93 L1214.75,691.65 L1217.74,691.36 L1220.73,691.05 L1223.71,690.72 L1226.70,690.38 L1229.68,690.02 L1232.65,689.64 L1235.63,689.25 L1238.60,688.84 L1241.57,688.41 L1244.53,687.96 L1247.49,687.50 L1250.45,687.02 L1253.40,686.51 L1256.35,685.99 L1259.29,685.45 L1262.24,684.89 L1265.17,684.31 L1268.11,683.71 L1271.03,683.09 L1273.96,682.45 L1276.88,681.80 L1279.80,681.12 L1282.71,680.43 L1285.62,679.73 L1288.53,679.00 L1291.43,678.27 L1294.33,677.52 L1297.23,676.75 L1300.12,675.98 L1303.01,675.19 L1305.90,674.39 L1308.79,673.58 L1311.67,672.76 L1314.55,671.94 L1317.43,671.10 L1320.31,670.26 L1323.19,669.41 L1326.06,668.55 L1328.94,667.69 L1331.81,666.83 L1334.68,665.96 L1337.55,665.08 L1340.42,664.21 L1343.28,663.33 L1346.15,662.45 L1349.02,661.57 L1351.88,660.69 L1354.75,659.82 L1357.61,658.94 L1360.48,658.07 L1363.34,657.20 L1366.21,656.33 L1369.08,655.47 L1371.94,654.62 L1374.81,653.77 L1377.68,652.92 L1380.55,652.09 L1383.42,651.26 L1386.29,650.44 L1389.16,649.63 L1392.03,648.83 L1394.91,648.04 L1397.79,647.25 L1400.67,646.48 L1403.55,645.72 L1406.44,644.96 L1409.33,644.22 L1412.22,643.48 L1415.11,642.76 L1418.01,642.04 L1420.91,641.33 L1423.82,640.64 L1426.73,639.95 L1429.64,639.28 L1432.56,638.61 L1435.48,637.96 L1438.41,637.31 L1441.35,636.68 L1444.29,636.05 L1447.23,635.44 L1450.18,634.84 L1453.14,634.24 L1456.10,633.66 L1459.07,633.09 L1462.05,632.53 L1465.03,631.98 L1468.02,631.45 L1471.01,630.91 L1474.01,630.39 L1477.01,629.86 L1480.01,629.33 L1483.02,628.79 L1486.01,628.25 L1489.01,627.69 L1492.00,627.12 L1494.99,626.53 L1497.96,625.93 L1500.93,625.29 L1503.89,624.63 L1506.84,623.94 L1509.77,623.21 L1512.69,622.45 L1515.59,621.65 L1518.48,620.81 L1521.34,619.91 L1524.19,618.98 L1527.01,617.99 L1529.82,616.94 L1532.60,615.85 L1535.36,614.71 L1538.10,613.52 L1540.81,612.28 L1543.50,610.99 L1546.17,609.66 L1548.82,608.29 L1551.44,606.86 L1554.04,605.40 L1556.61,603.89 L1559.16,602.34 L1561.69,600.75 L1564.19,599.11 L1566.67,597.44 L1569.12,595.73 L1571.54,593.98 L1573.95,592.20 L1576.32,590.37 L1578.67,588.52 L1580.99,586.62 L1583.29,584.70 L1585.56,582.74 L1587.81,580.75 L1590.02,578.72 L1592.21,576.67 L1594.37,574.59 L1596.51,572.47 L1598.62,570.33 L1600.70,568.17 L1602.75,565.97 L1604.77,563.75 L1606.76,561.51 L1608.73,559.24 L1610.66,556.95 L1612.57,554.63 L1614.44,552.30 L1616.29,549.94 L1618.11,547.57 L1619.89,545.17 L1621.65,542.76 L1623.38,540.33 L1625.08,537.88 L1626.74,535.42 L1628.39,532.93 L1630.00,530.44 L1631.59,527.92 L1633.15,525.39 L1634.69,522.85 L1636.20,520.29 L1637.69,517.71 L1639.15,515.13 L1640.59,512.52 L1642.01,509.91 L1643.41,507.28 L1644.79,504.64 L1646.15,501.99 L1647.49,499.32 L1648.81,496.65 L1650.11,493.96 L1651.39,491.26 L1652.66,488.56 L1653.91,485.84 L1655.15,483.11 L1656.37,480.38 L1657.57,477.63 L1658.77,474.88 L1659.94,472.12 L1661.11,469.35 L1662.27,466.58 L1663.41,463.79 L1664.55,461.00 L1665.67,458.21 L1666.78,455.41 L1667.89,452.60 L1668.99,449.79 L1670.08,446.98 L1671.16,444.16 L1672.24,441.34 L1673.32,438.51 L1674.38,435.68 L1675.45,432.85 L1676.51,430.02 L1677.57,427.18 L1678.62,424.34 L1679.68,421.50 L1680.73,418.66 L1681.79,415.82 L1682.84,412.99 L1683.90,410.15 L1684.95,407.31 L1686.01,404.47 L1687.07,401.64 L1688.14,398.80 L1689.21,395.97 L1690.29,393.14 L1691.37,390.32 L1692.45,387.50 L1693.55,384.68 L1694.65,381.86 L1695.76,379.06 L1696.88,376.25 L1698.01,373.45 L1699.14,370.66 L1700.29,367.87 L1701.45,365.09 L1702.62,362.32 L1703.81,359.55 L1705.01,356.79 L1706.22,354.04 L1707.44,351.30 L1708.69,348.57 L1709.94,345.85 L1711.22,343.13 L1712.51,340.43 L1713.82,337.73 L1715.14,335.05 L1716.49,332.38 L1717.86,329.72 L1719.24,327.07 L1720.65,324.43 L1722.08,321.81 L1723.53,319.20 L1725.00,316.60 L1726.50,314.01 L1728.02,311.44 L1729.57,308.89 L1731.14,306.35 L1732.74,303.82 L1734.37,301.32 L1736.02,298.83 L1737.73,296.39 L1739.48,294.00 L1741.29,291.67 L1743.17,289.43 L1745.12,287.28 L1747.16,285.23 L1749.30,283.31 L1751.54,281.52 L1753.88,279.87 L1756.35,278.39 L1758.95,277.08 L1761.69,275.96 L1764.56,275.03 L1767.56,274.28 L1770.65,273.66 L1773.80,273.13 L1776.97,272.65 L1780.14,272.18 L1783.26,271.68 L1786.33,271.13 L1789.35,270.55 L1792.33,269.95 L1795.29,269.35 L1798.21,268.76 L1801.12,268.19 L1804.03,267.67 L1806.93,267.21 L1809.84,266.82 L1812.76,266.51 L1815.70,266.31 L1818.68,266.22 L1821.69,266.26 L1824.75,266.45 L1827.85,266.76 L1830.97,267.15 L1834.11,267.58 L1837.25,267.99 L1840.37,268.35 L1843.46,268.59 L1846.50,268.69 L1849.50,268.63 L1852.45,268.42 L1855.36,268.05 L1858.21,267.54 L1861.02,266.89 L1863.78,266.11 L1866.50,265.20 L1869.17,264.16 L1871.79,263.00 L1874.37,261.73 L1876.89,260.35 L1879.38,258.86 L1881.81,257.27 L1884.21,255.59 L1886.55,253.82 L1888.85,251.96 L1891.10,250.02 L1893.31,248.01 L1895.47,245.92 L1897.59,243.77 L1899.66,241.56 L1901.69,239.30 L1903.67,236.98 L1905.61,234.62 L1907.50,232.21 L1909.35,229.77 L1911.15,227.30 L1912.91,224.80 L1914.63,222.28 L1916.30,219.75 L1917.93,217.20 L1919.51,214.65 L1921.05,212.09 L1922.55,209.54 L1924.00,207.00" fill="none" stroke="#000" stroke-width="5.5" stroke-linecap="butt" stroke-linejoin="round" stroke-dasharray="23.5 17.62" stroke-dashoffset="0.97"/>
<path d="M1924.00,207.00 L1923.72,210.03 L1923.42,213.05 L1923.10,216.06 L1922.77,219.07 L1922.42,222.08 L1922.05,225.07 L1921.67,228.07 L1921.27,231.05 L1920.85,234.03 L1920.42,237.01 L1919.97,239.98 L1919.51,242.95 L1919.04,245.91 L1918.55,248.86 L1918.04,251.82 L1917.53,254.77 L1916.99,257.71 L1916.45,260.65 L1915.89,263.59 L1915.32,266.52 L1914.74,269.45 L1914.15,272.37 L1913.54,275.30 L1912.93,278.22 L1912.30,281.13 L1911.66,284.05 L1911.01,286.96 L1910.35,289.87 L1909.69,292.77 L1909.01,295.68 L1908.32,298.58 L1907.62,301.48 L1906.92,304.38 L1906.21,307.28 L1905.48,310.17 L1904.75,313.07 L1904.02,315.96 L1903.27,318.85 L1902.52,321.74 L1901.76,324.63 L1901.00,327.52 L1900.23,330.41 L1899.45,333.30 L1898.67,336.19 L1897.89,339.08 L1897.09,341.97 L1896.30,344.86 L1895.50,347.75 L1894.69,350.64 L1893.89,353.54 L1893.07,356.43 L1892.26,359.32 L1891.44,362.22 L1890.62,365.11 L1889.80,368.01 L1888.97,370.91 L1888.14,373.81 L1887.30,376.71 L1886.46,379.60 L1885.62,382.50 L1884.77,385.40 L1883.91,388.30 L1883.05,391.19 L1882.18,394.09 L1881.31,396.98 L1880.43,399.87 L1879.54,402.76 L1878.65,405.65 L1877.75,408.54 L1876.84,411.42 L1875.92,414.30 L1875.00,417.18 L1874.06,420.05 L1873.12,422.92 L1872.17,425.79 L1871.21,428.66 L1870.24,431.52 L1869.25,434.37 L1868.26,437.23 L1867.26,440.07 L1866.25,442.92 L1865.23,445.75 L1864.19,448.58 L1863.14,451.41 L1862.08,454.23 L1861.01,457.05 L1859.93,459.86 L1858.83,462.66 L1857.72,465.46 L1856.60,468.25 L1855.46,471.03 L1854.31,473.80 L1853.15,476.57 L1851.97,479.33 L1850.77,482.08 L1849.56,484.83 L1848.34,487.56 L1847.09,490.29 L1845.84,493.01 L1844.56,495.72 L1843.27,498.42 L1841.97,501.11 L1840.65,503.80 L1839.31,506.47 L1837.95,509.13 L1836.58,511.79 L1835.19,514.43 L1833.78,517.06 L1832.36,519.68 L1830.92,522.30 L1829.46,524.90 L1827.98,527.49 L1826.49,530.07 L1824.98,532.64 L1823.45,535.20 L1821.91,537.75 L1820.35,540.28 L1818.77,542.81 L1817.17,545.32 L1815.56,547.82 L1813.93,550.31 L1812.28,552.78 L1810.61,555.25 L1808.93,557.70 L1807.22,560.14 L1805.50,562.56 L1803.76,564.98 L1802.01,567.38 L1800.23,569.76 L1798.44,572.14 L1796.63,574.50 L1794.80,576.84 L1792.95,579.18 L1791.08,581.49 L1789.20,583.80 L1787.29,586.09 L1785.37,588.36 L1783.43,590.63 L1781.47,592.87 L1779.49,595.10 L1777.49,597.32 L1775.47,599.52 L1773.44,601.71 L1771.38,603.88 L1769.31,606.04 L1767.22,608.18 L1765.10,610.30 L1762.97,612.41 L1760.82,614.50 L1758.65,616.58 L1756.46,618.63 L1754.25,620.68 L1752.03,622.70 L1749.78,624.71 L1747.52,626.71 L1745.24,628.68 L1742.95,630.64 L1740.63,632.59 L1738.30,634.51 L1735.96,636.42 L1733.60,638.31 L1731.22,640.19 L1728.83,642.05 L1726.42,643.89 L1724.00,645.71 L1721.56,647.51 L1719.11,649.30 L1716.64,651.07 L1714.16,652.82 L1711.67,654.56 L1709.17,656.28 L1706.65,657.98 L1704.12,659.66 L1701.58,661.32 L1699.02,662.96 L1696.46,664.59 L1693.88,666.20 L1691.29,667.79 L1688.69,669.36 L1686.08,670.91 L1683.46,672.45 L1680.83,673.96 L1678.19,675.46 L1675.54,676.94 L1672.89,678.40 L1670.22,679.84 L1667.55,681.26 L1664.86,682.66 L1662.17,684.04 L1659.47,685.40 L1656.77,686.75 L1654.06,688.07 L1651.34,689.38 L1648.61,690.66 L1645.88,691.93 L1643.14,693.17 L1640.40,694.40 L1637.65,695.61 L1634.90,696.79 L1632.14,697.96 L1629.37,699.11 L1626.60,700.24 L1623.82,701.36 L1621.04,702.45 L1618.25,703.53 L1615.46,704.59 L1612.66,705.63 L1609.86,706.66 L1607.06,707.66 L1604.24,708.66 L1601.43,709.63 L1598.60,710.59 L1595.78,711.53 L1592.95,712.46 L1590.11,713.37 L1587.27,714.26 L1584.43,715.14 L1581.58,716.00 L1578.73,716.85 L1575.87,717.69 L1573.01,718.51 L1570.14,719.31 L1567.27,720.11 L1564.40,720.88 L1561.52,721.65 L1558.64,722.40 L1555.75,723.14 L1552.86,723.86 L1549.97,724.57 L1547.07,725.27 L1544.17,725.96 L1541.27,726.63 L1538.36,727.30 L1535.45,727.95 L1532.54,728.59 L1529.62,729.22 L1526.71,729.83 L1523.78,730.44 L1520.86,731.04 L1517.93,731.62 L1515.00,732.20 L1512.06,732.76 L1509.13,733.31 L1506.19,733.86 L1503.24,734.40 L1500.30,734.92 L1497.35,735.44 L1494.40,735.95 L1491.45,736.45 L1488.50,736.94 L1485.54,737.43 L1482.58,737.90 L1479.62,738.37 L1476.66,738.83 L1473.69,739.28 L1470.73,739.73 L1467.76,740.17 L1464.79,740.60 L1461.82,741.03 L1458.84,741.45 L1455.87,741.86 L1452.89,742.27 L1449.92,742.68 L1446.94,743.07 L1443.96,743.47 L1440.97,743.85 L1437.99,744.23 L1435.01,744.61 L1432.02,744.99 L1429.04,745.36 L1426.05,745.72 L1423.06,746.08 L1420.07,746.44 L1417.08,746.80 L1414.10,747.15 L1411.10,747.50 L1408.11,747.84 L1405.12,748.19 L1402.13,748.53 L1399.14,748.87 L1396.15,749.21 L1393.16,749.55 L1390.16,749.88 L1387.17,750.22 L1384.18,750.55 L1381.19,750.88 L1378.19,751.21 L1375.20,751.54 L1372.21,751.88 L1369.22,752.21 L1366.23,752.54 L1363.24,752.87 L1360.25,753.20 L1357.26,753.54 L1354.27,753.87 L1351.28,754.21 L1348.30,754.55 L1345.31,754.89 L1342.32,755.23 L1339.34,755.57 L1336.36,755.92 L1333.37,756.26 L1330.39,756.61 L1327.41,756.95 L1324.43,757.29 L1321.45,757.63 L1318.47,757.97 L1315.49,758.31 L1312.51,758.64 L1309.53,758.97 L1306.55,759.29 L1303.57,759.61 L1300.59,759.93 L1297.61,760.24 L1294.63,760.54 L1291.65,760.84 L1288.67,761.12 L1285.69,761.40 L1282.71,761.68 L1279.72,761.94 L1276.74,762.20 L1273.76,762.44 L1270.77,762.68 L1267.79,762.90 L1264.80,763.11 L1261.82,763.31 L1258.83,763.50 L1255.84,763.68 L1252.85,763.84 L1249.86,763.99 L1246.87,764.12 L1243.87,764.24 L1240.88,764.34 L1237.88,764.43 L1234.88,764.50 L1231.88,764.56 L1228.88,764.59 L1225.88,764.61 L1222.87,764.61 L1219.87,764.60 L1216.86,764.56 L1213.85,764.51 L1210.84,764.45 L1207.82,764.38 L1204.81,764.30 L1201.80,764.21 L1198.78,764.12 L1195.77,764.04 L1192.76,763.95 L1189.74,763.87 L1186.73,763.79 L1183.72,763.72 L1180.71,763.67 L1177.71,763.63 L1174.70,763.61 L1171.70,763.60 L1168.70,763.62 L1165.70,763.66 L1162.71,763.72 L1159.72,763.82 L1156.73,763.94 L1153.74,764.10 L1150.76,764.29 L1147.79,764.51 L1144.82,764.75 L1141.84,765.03 L1138.88,765.33 L1135.91,765.66 L1132.95,766.01 L1129.99,766.39 L1127.04,766.78 L1124.09,767.21 L1121.13,767.65 L1118.19,768.11 L1115.24,768.58 L1112.29,769.08 L1109.35,769.59 L1106.41,770.12 L1103.47,770.66 L1100.53,771.22 L1097.59,771.79 L1094.66,772.36 L1091.72,772.95 L1088.79,773.55 L1085.85,774.16 L1082.92,774.77 L1079.99,775.39 L1077.06,776.01 L1074.13,776.64 L1071.19,777.27 L1068.26,777.90 L1065.33,778.53 L1062.40,779.16 L1059.47,779.79 L1056.53,780.42 L1053.60,781.05 L1050.67,781.67 L1047.73,782.28 L1044.80,782.89 L1041.86,783.49 L1038.92,784.08 L1035.98,784.66 L1033.04,785.23 L1030.10,785.79 L1027.15,786.34 L1024.20,786.87 L1021.25,787.39 L1018.30,787.89 L1015.35,788.38 L1012.39,788.84 L1009.44,789.30 L1006.48,789.73 L1003.51,790.15 L1000.55,790.55 L997.58,790.94 L994.61,791.32 L991.64,791.68 L988.67,792.03 L985.70,792.36 L982.72,792.68 L979.74,792.99 L976.76,793.28 L973.78,793.57 L970.80,793.84 L967.82,794.10 L964.83,794.35 L961.85,794.59 L958.86,794.82 L955.87,795.05 L952.88,795.26 L949.89,795.46 L946.89,795.66 L943.90,795.84 L940.90,796.02 L937.91,796.20 L934.91,796.36 L931.91,796.52 L928.91,796.68 L925.92,796.82 L922.92,796.97 L919.91,797.10 L916.91,797.24 L913.91,797.37 L910.91,797.49 L907.91,797.62 L904.90,797.74 L901.90,797.85 L898.90,797.97 L895.89,798.08 L892.89,798.19 L889.88,798.31 L886.88,798.42 L883.88,798.53 L880.87,798.64 L877.87,798.75 L874.86,798.86 L871.86,798.98 L868.86,799.09 L865.85,799.21 L862.85,799.33 L859.85,799.46 L856.85,799.58 L853.84,799.71 L850.84,799.85 L847.84,799.99 L844.84,800.13 L841.84,800.28 L838.85,800.44 L835.85,800.60 L832.85,800.77 L829.86,800.94 L826.86,801.13 L823.87,801.32 L820.88,801.51 L817.88,801.72 L814.89,801.94 L811.91,802.16 L808.92,802.39 L805.93,802.64 L802.95,802.89 L799.96,803.16 L796.98,803.43 L794.00,803.72 L791.02,804.02 L788.05,804.33 L785.07,804.66 L782.10,804.99 L779.13,805.35 L776.16,805.71 L773.19,806.09 L770.22,806.48 L767.26,806.89 L764.30,807.32 L761.34,807.76 L758.38,808.22 L755.43,808.69 L752.47,809.18 L749.52,809.69 L746.58,810.21 L743.63,810.75 L740.69,811.32 L737.75,811.90 L734.81,812.50 L731.88,813.12 L728.94,813.76 L726.01,814.42 L723.09,815.10 L720.16,815.80 L717.24,816.51 L714.33,817.25 L711.41,818.00 L708.50,818.77 L705.59,819.56 L702.69,820.37 L699.78,821.19 L696.89,822.02 L693.99,822.87 L691.10,823.74 L688.21,824.62 L685.33,825.52 L682.45,826.42 L679.57,827.34 L676.70,828.28 L673.83,829.22 L670.96,830.18 L668.10,831.15 L665.24,832.13 L662.39,833.11 L659.54,834.11 L656.69,835.12 L653.85,836.14 L651.01,837.16 L648.18,838.20 L645.35,839.24 L642.53,840.29 L639.71,841.34 L636.89,842.40 L634.08,843.47 L631.28,844.54 L628.48,845.62 L625.68,846.70 L622.89,847.79 L620.10,848.88 L617.32,849.97 L614.54,851.07 L611.77,852.17 L609.00,853.27 L606.25,854.38 L603.50,855.52 L600.78,856.67 L598.07,857.86 L595.39,859.08 L592.73,860.35 L590.10,861.67 L587.50,863.05 L584.94,864.49 L582.42,866.00 L579.94,867.59 L577.50,869.26 L575.12,871.03 L572.78,872.87 L570.48,874.80 L568.22,876.79 L565.99,878.84 L563.79,880.94 L561.61,883.08 L559.46,885.26 L557.32,887.46 L555.18,889.68 L553.06,891.91 L550.94,894.14 L548.81,896.36 L546.68,898.56 L544.54,900.74 L542.39,902.90 L540.24,905.05 L538.09,907.18 L535.95,909.31 L533.80,911.43 L531.67,913.55 L529.56,915.68 L527.46,917.81 L525.38,919.95 L523.32,922.10 L521.29,924.27 L519.29,926.46 L517.33,928.68 L515.40,930.92 L513.51,933.20 L511.66,935.51 L509.86,937.86 L508.11,940.26 L506.42,942.70 L504.77,945.19 L503.18,947.72 L501.62,950.28 L500.09,952.88 L498.58,955.49 L497.09,958.12 L495.60,960.75 L494.11,963.38 L492.61,966.01 L491.09,968.62 L489.54,971.22 L487.96,973.78 L486.33,976.32 L484.66,978.81 L482.92,981.25 L481.12,983.64 L479.26,985.99 L477.35,988.29 L475.40,990.55 L473.42,992.80 L471.43,995.02 L469.43,997.24 L467.43,999.46 L465.45,1001.69 L463.50,1003.94 L461.59,1006.21 L459.72,1008.52 L457.92,1010.86 L456.19,1013.26 L454.53,1015.72 L452.95,1018.22 L451.43,1020.77 L449.98,1023.37 L448.60,1026.01 L447.27,1028.69 L446.00,1031.41 L444.78,1034.16 L443.61,1036.94 L442.48,1039.75 L441.39,1042.58 L440.35,1045.43 L439.33,1048.30 L438.35,1051.19 L437.39,1054.08 L436.46,1056.99 L435.55,1059.90 L434.65,1062.81 L433.77,1065.72 L432.89,1068.63 L432.03,1071.54 L431.17,1074.43 L430.31,1077.33 L429.46,1080.21 L428.62,1083.09 L427.79,1085.97 L426.96,1088.85 L426.14,1091.72 L425.32,1094.59 L424.51,1097.45 L423.70,1100.31 L422.90,1103.17 L422.10,1106.03 L421.31,1108.88 L420.53,1111.74 L419.75,1114.59 L418.97,1117.44 L418.20,1120.29 L417.43,1123.14 L416.67,1125.99 L415.91,1128.85 L415.16,1131.70 L414.41,1134.55 L413.66,1137.40 L412.92,1140.26 L412.18,1143.12 L411.44,1145.98 L410.71,1148.84 L409.98,1151.70 L409.25,1154.57 L408.53,1157.44 L407.81,1160.32 L407.09,1163.20 L406.37,1166.08 L405.66,1168.97 L404.95,1171.86 L404.24,1174.76 L403.53,1177.66 L402.82,1180.57 L402.12,1183.49 L401.42,1186.41 L400.71,1189.34 L400.01,1192.27 L399.31,1195.22 L398.62,1198.17 L397.92,1201.12 L397.22,1204.09 L396.53,1207.07 L395.83,1210.05 L395.13,1213.04 L394.43,1216.04 L393.73,1219.04 L393.02,1222.04 L392.30,1225.05 L391.58,1228.05 L390.85,1231.06 L390.11,1234.06 L389.36,1237.07 L388.60,1240.07 L387.82,1243.06 L387.03,1246.05 L386.23,1249.03 L385.40,1252.00 L384.57,1254.96 L383.71,1257.91 L382.83,1260.85 L381.93,1263.78 L381.01,1266.69 L380.06,1269.59 L379.09,1272.47 L378.09,1275.34 L377.07,1278.18 L376.02,1281.00 L374.94,1283.81 L373.83,1286.59 L372.68,1289.34 L371.51,1292.08 L370.30,1294.78 L369.05,1297.46 L367.77,1300.11 L366.45,1302.73 L365.09,1305.32 L363.69,1307.88 L362.25,1310.41 L360.77,1312.90 L359.25,1315.36 L357.68,1317.78 L356.06,1320.16 L354.40,1322.50 L352.69,1324.81 L350.93,1327.07 L349.12,1329.29 L347.26,1331.47 L345.35,1333.60 L343.38,1335.69 L341.36,1337.73 L339.27,1339.70 L337.13,1341.55 L334.91,1343.25 L332.61,1344.75 L330.22,1346.00 L327.74,1346.95 L325.16,1347.57 L322.49,1347.81 L319.73,1347.69 L316.90,1347.21 L314.02,1346.38 L311.12,1345.23 L308.22,1343.80 L305.37,1342.13 L302.58,1340.26 L299.89,1338.22 L297.33,1336.07 L294.92,1333.84 L292.70,1331.57 L290.70,1329.30" fill="none" stroke="#000" stroke-width="5.5" stroke-linecap="butt" stroke-linejoin="round" stroke-dasharray="23.5 17.62" stroke-dashoffset="10.41"/>
</g>
<line x1="270.5" y1="101.8" x2="286.1" y2="101.8" stroke="#000" stroke-width="5.2" stroke-linecap="round"/>
<line x1="270.5" y1="149.4" x2="286.1" y2="149.4" stroke="#000" stroke-width="5.2" stroke-linecap="round"/>
<line x1="270.5" y1="196.5" x2="286.1" y2="196.5" stroke="#000" stroke-width="5.2" stroke-linecap="round"/>
<line x1="270.5" y1="243.4" x2="286.1" y2="243.4" stroke="#000" stroke-width="5.2" stroke-linecap="round"/>
<line x1="270.5" y1="331.6" x2="286.1" y2="331.6" stroke="#000" stroke-width="5.2" stroke-linecap="round"/>
<line x1="270.5" y1="378.8" x2="286.1" y2="378.8" stroke="#000" stroke-width="5.2" stroke-linecap="round"/>
<line x1="270.5" y1="425.8" x2="286.1" y2="425.8" stroke="#000" stroke-width="5.2" stroke-linecap="round"/>
<line x1="270.5" y1="467.0" x2="286.1" y2="467.0" stroke="#000" stroke-width="5.2" stroke-linecap="round"/>
<line x1="270.5" y1="561.6" x2="286.1" y2="561.6" stroke="#000" stroke-width="5.2" stroke-linecap="round"/>
<line x1="270.5" y1="608.6" x2="286.1" y2="608.6" stroke="#000" stroke-width="5.2" stroke-linecap="round"/>
<line x1="270.5" y1="649.6" x2="286.1" y2="649.6" stroke="#000" stroke-width="5.2" stroke-linecap="round"/>
<line x1="270.5" y1="696.9" x2="286.1" y2="696.9" stroke="#000" stroke-width="5.2" stroke-linecap="round"/>
<line x1="270.5" y1="791.0" x2="286.1" y2="791.0" stroke="#000" stroke-width="5.2" stroke-linecap="round"/>
<line x1="270.5" y1="832.3" x2="286.1" y2="832.3" stroke="#000" stroke-width="5.2" stroke-linecap="round"/>
<line x1="270.5" y1="879.3" x2="286.1" y2="879.3" stroke="#000" stroke-width="5.2" stroke-linecap="round"/>
<line x1="270.5" y1="926.3" x2="286.1" y2="926.3" stroke="#000" stroke-width="5.2" stroke-linecap="round"/>
<line x1="270.5" y1="1014.8" x2="286.1" y2="1014.8" stroke="#000" stroke-width="5.2" stroke-linecap="round"/>
<line x1="270.5" y1="1061.9" x2="286.1" y2="1061.9" stroke="#000" stroke-width="5.2" stroke-linecap="round"/>
<line x1="270.5" y1="1109.1" x2="286.1" y2="1109.1" stroke="#000" stroke-width="5.2" stroke-linecap="round"/>
<line x1="270.5" y1="1156.3" x2="286.1" y2="1156.3" stroke="#000" stroke-width="5.2" stroke-linecap="round"/>
<line x1="270.5" y1="1244.3" x2="286.1" y2="1244.3" stroke="#000" stroke-width="5.2" stroke-linecap="round"/>
<line x1="270.5" y1="1291.7" x2="286.1" y2="1291.7" stroke="#000" stroke-width="5.2" stroke-linecap="round"/>
<line x1="270.5" y1="1338.7" x2="286.1" y2="1338.7" stroke="#000" stroke-width="5.2" stroke-linecap="round"/>
<line x1="270.5" y1="1385.7" x2="286.1" y2="1385.7" stroke="#000" stroke-width="5.2" stroke-linecap="round"/>
<line x1="252.5" y1="284.7" x2="286.1" y2="284.7" stroke="#000" stroke-width="5.2" stroke-linecap="round"/>
<line x1="252.5" y1="514.4" x2="286.1" y2="514.4" stroke="#000" stroke-width="5.2" stroke-linecap="round"/>
<line x1="252.5" y1="744.0" x2="286.1" y2="744.0" stroke="#000" stroke-width="5.2" stroke-linecap="round"/>
<line x1="252.5" y1="973.4" x2="286.1" y2="973.4" stroke="#000" stroke-width="5.2" stroke-linecap="round"/>
<line x1="252.5" y1="1197.2" x2="286.1" y2="1197.2" stroke="#000" stroke-width="5.2" stroke-linecap="round"/>
<line x1="327.0" y1="1426.8" x2="327.0" y2="1447.6" stroke="#000" stroke-width="6" stroke-linecap="round"/>
<line x1="368.4" y1="1426.8" x2="368.4" y2="1447.6" stroke="#000" stroke-width="6" stroke-linecap="round"/>
<line x1="409.4" y1="1426.8" x2="409.4" y2="1447.6" stroke="#000" stroke-width="6" stroke-linecap="round"/>
<line x1="450.8" y1="1426.8" x2="450.8" y2="1447.6" stroke="#000" stroke-width="6" stroke-linecap="round"/>
<line x1="492.0" y1="1426.8" x2="492.0" y2="1447.6" stroke="#000" stroke-width="6" stroke-linecap="round"/>
<line x1="533.2" y1="1426.8" x2="533.2" y2="1447.6" stroke="#000" stroke-width="6" stroke-linecap="round"/>
<line x1="574.2" y1="1426.8" x2="574.2" y2="1447.6" stroke="#000" stroke-width="6" stroke-linecap="round"/>
<line x1="615.7" y1="1426.8" x2="615.7" y2="1447.6" stroke="#000" stroke-width="6" stroke-linecap="round"/>
<line x1="656.8" y1="1426.8" x2="656.8" y2="1447.6" stroke="#000" stroke-width="6" stroke-linecap="round"/>
<line x1="739.0" y1="1426.8" x2="739.0" y2="1447.6" stroke="#000" stroke-width="6" stroke-linecap="round"/>
<line x1="780.3" y1="1426.8" x2="780.3" y2="1447.6" stroke="#000" stroke-width="6" stroke-linecap="round"/>
<line x1="821.6" y1="1426.8" x2="821.6" y2="1447.6" stroke="#000" stroke-width="6" stroke-linecap="round"/>
<line x1="862.8" y1="1426.8" x2="862.8" y2="1447.6" stroke="#000" stroke-width="6" stroke-linecap="round"/>
<line x1="903.9" y1="1426.8" x2="903.9" y2="1447.6" stroke="#000" stroke-width="6" stroke-linecap="round"/>
<line x1="945.0" y1="1426.8" x2="945.0" y2="1447.6" stroke="#000" stroke-width="6" stroke-linecap="round"/>
<line x1="986.2" y1="1426.8" x2="986.2" y2="1447.6" stroke="#000" stroke-width="6" stroke-linecap="round"/>
<line x1="1027.2" y1="1426.8" x2="1027.2" y2="1447.6" stroke="#000" stroke-width="6" stroke-linecap="round"/>
<line x1="1068.7" y1="1426.8" x2="1068.7" y2="1447.6" stroke="#000" stroke-width="6" stroke-linecap="round"/>
<line x1="1151.2" y1="1426.8" x2="1151.2" y2="1447.6" stroke="#000" stroke-width="6" stroke-linecap="round"/>
<line x1="1192.4" y1="1426.8" x2="1192.4" y2="1447.6" stroke="#000" stroke-width="6" stroke-linecap="round"/>
<line x1="1233.6" y1="1426.8" x2="1233.6" y2="1447.6" stroke="#000" stroke-width="6" stroke-linecap="round"/>
<line x1="1274.7" y1="1426.8" x2="1274.7" y2="1447.6" stroke="#000" stroke-width="6" stroke-linecap="round"/>
<line x1="1315.9" y1="1426.8" x2="1315.9" y2="1447.6" stroke="#000" stroke-width="6" stroke-linecap="round"/>
<line x1="1357.1" y1="1426.8" x2="1357.1" y2="1447.6" stroke="#000" stroke-width="6" stroke-linecap="round"/>
<line x1="1398.2" y1="1426.8" x2="1398.2" y2="1447.6" stroke="#000" stroke-width="6" stroke-linecap="round"/>
<line x1="1439.2" y1="1426.8" x2="1439.2" y2="1447.6" stroke="#000" stroke-width="6" stroke-linecap="round"/>
<line x1="1480.7" y1="1426.8" x2="1480.7" y2="1447.6" stroke="#000" stroke-width="6" stroke-linecap="round"/>
<line x1="1557.1" y1="1426.8" x2="1557.1" y2="1447.6" stroke="#000" stroke-width="6" stroke-linecap="round"/>
<line x1="1598.6" y1="1426.8" x2="1598.6" y2="1447.6" stroke="#000" stroke-width="6" stroke-linecap="round"/>
<line x1="1639.7" y1="1426.8" x2="1639.7" y2="1447.6" stroke="#000" stroke-width="6" stroke-linecap="round"/>
<line x1="1681.1" y1="1426.8" x2="1681.1" y2="1447.6" stroke="#000" stroke-width="6" stroke-linecap="round"/>
<line x1="1721.8" y1="1426.8" x2="1721.8" y2="1447.6" stroke="#000" stroke-width="6" stroke-linecap="round"/>
<line x1="1762.9" y1="1426.8" x2="1762.9" y2="1447.6" stroke="#000" stroke-width="6" stroke-linecap="round"/>
<line x1="1804.1" y1="1426.8" x2="1804.1" y2="1447.6" stroke="#000" stroke-width="6" stroke-linecap="round"/>
<line x1="1845.3" y1="1426.8" x2="1845.3" y2="1447.6" stroke="#000" stroke-width="6" stroke-linecap="round"/>
<line x1="1886.8" y1="1426.8" x2="1886.8" y2="1447.6" stroke="#000" stroke-width="6" stroke-linecap="round"/>
<line x1="698.0" y1="1426.8" x2="698.0" y2="1460.8" stroke="#000" stroke-width="6" stroke-linecap="round"/>
<line x1="1109.9" y1="1426.8" x2="1109.9" y2="1460.8" stroke="#000" stroke-width="6" stroke-linecap="round"/>
<line x1="1516.1" y1="1426.8" x2="1516.1" y2="1460.8" stroke="#000" stroke-width="6" stroke-linecap="round"/>
<line x1="1927.6" y1="1426.8" x2="1927.6" y2="1460.8" stroke="#000" stroke-width="6" stroke-linecap="round"/>
<path d="M286.1,60.3 H1927.6 V1426.8 H286.1 Z" fill="none" stroke="#000" stroke-width="8" stroke-linejoin="round"/>
<line x1="1362.6" y1="1197.4" x2="1562.3" y2="1197.4" stroke="#000" stroke-width="5.3" stroke-linecap="round"/>
<line x1="1360" y1="1314.9" x2="1548" y2="1314.9" stroke="#000" stroke-width="5.3" stroke-linecap="butt" stroke-dasharray="23.5 17.62"/>
<text transform="matrix(0.9803 0.0000 0.0000 0.9741 128.2183 81.3259)" font-family="Liberation Serif, serif" font-size="80" stroke="#000" stroke-width="1.1" stroke-linejoin="round">15</text>
<text transform="matrix(0.9915 0.0000 0.0000 0.9964 128.0507 311.8036)" font-family="Liberation Serif, serif" font-size="80" stroke="#000" stroke-width="1.1" stroke-linejoin="round">10</text>
<text transform="matrix(1.0515 0.0000 0.0000 0.9833 165.5939 540.9167)" font-family="Liberation Serif, serif" font-size="80" stroke="#000" stroke-width="1.1" stroke-linejoin="round">5</text>
<text transform="matrix(1.0647 0.0000 0.0000 1.0036 166.8059 765.1964)" font-family="Liberation Serif, serif" font-size="80" stroke="#000" stroke-width="1.1" stroke-linejoin="round">0</text>
<text transform="matrix(0.9316 0.0000 0.0000 1.0056 140.5051 995.0944)" font-family="Liberation Serif, serif" font-size="80" stroke="#000" stroke-width="1.1" stroke-linejoin="round">−5</text>
<text transform="matrix(0.9496 0.0000 0.0000 0.9873 101.3513 1224.0127)" font-family="Liberation Serif, serif" font-size="80" stroke="#000" stroke-width="1.1" stroke-linejoin="round">−10</text>
<text transform="matrix(0.9429 0.0000 0.0000 0.9889 101.3714 1452.7111)" font-family="Liberation Serif, serif" font-size="80" stroke="#000" stroke-width="1.1" stroke-linejoin="round">−15</text>
<text transform="matrix(0.9633 0.0000 0.0000 1.0415 267.1200 1566.8000)" font-family="Liberation Serif, serif" font-size="80" stroke="#000" stroke-width="1.1" stroke-linejoin="round">1</text>
<text transform="matrix(1.0818 0.0000 0.0000 1.0222 676.5545 1566.8000)" font-family="Liberation Serif, serif" font-size="80" stroke="#000" stroke-width="1.1" stroke-linejoin="round">2</text>
<text transform="matrix(1.0088 0.0000 0.0000 1.0000 1087.0735 1565.6000)" font-family="Liberation Serif, serif" font-size="80" stroke="#000" stroke-width="1.1" stroke-linejoin="round">3</text>
<text transform="matrix(0.9421 0.0000 0.0000 1.0094 1498.9579 1566.4000)" font-family="Liberation Serif, serif" font-size="80" stroke="#000" stroke-width="1.1" stroke-linejoin="round">4</text>
<text transform="matrix(1.0758 0.0000 0.0000 0.9889 1905.8970 1565.6111)" font-family="Liberation Serif, serif" font-size="80" stroke="#000" stroke-width="1.1" stroke-linejoin="round">5</text>
<text transform="matrix(1.0375 0.0000 0.0000 0.9627 713.8250 1654.0373)" font-family="Liberation Serif, serif" font-size="82" stroke="#000" stroke-width="1.1" stroke-linejoin="round">Potential</text>
<text transform="matrix(0.9060 0.0000 0.0000 0.9316 1037.8819 1653.5316)" font-family="Liberation Serif, serif" font-size="82" stroke="#000" stroke-width="1.1" stroke-linejoin="round">(V</text>
<text transform="matrix(1.0239 0.0000 0.0000 0.9475 1137.7239 1654.1525)" font-family="Liberation Serif, serif" font-size="82" stroke="#000" stroke-width="1.1" stroke-linejoin="round">vs</text>
<text transform="matrix(0.9300 0.0000 0.0000 0.9696 1230.6400 1653.8304)" font-family="Liberation Serif, serif" font-size="82" stroke="#000" stroke-width="1.1" stroke-linejoin="round">Li</text>
<text transform="matrix(0.9037 0.0000 0.0000 0.9259 1313.4926 1631.7556)" font-family="Liberation Serif, serif" font-size="56" stroke="#000" stroke-width="1.1" stroke-linejoin="round">+</text>
<text transform="matrix(1.0304 0.0000 0.0000 1.1500 1341.0000 1660.0000)" font-family="Liberation Serif, serif" font-size="82" stroke="#000" stroke-width="1.1" stroke-linejoin="round">/</text>
<text transform="matrix(0.9411 0.0000 0.0000 0.9250 1383.8179 1653.5500)" font-family="Liberation Serif, serif" font-size="82" stroke="#000" stroke-width="1.1" stroke-linejoin="round">Li)</text>
<text transform="matrix(0.0000 -1.0641 0.9737 0.0000 78.7526 1083.6923)" font-family="Liberation Serif, serif" font-size="82" stroke="#000" stroke-width="1.1" stroke-linejoin="round">Current</text>
<text transform="matrix(0.0000 -1.0132 0.9750 0.0000 82.1500 794.9396)" font-family="Liberation Serif, serif" font-size="82" stroke="#000" stroke-width="1.1" stroke-linejoin="round">(μA/cm</text>
<text transform="matrix(0.0000 -0.9870 0.8972 0.0000 49.5000 537.5739)" font-family="Liberation Serif, serif" font-size="54" stroke="#000" stroke-width="1.1" stroke-linejoin="round">2</text>
<text transform="matrix(0.0000 -0.8364 0.9303 0.0000 80.1553 509.2727)" font-family="Liberation Serif, serif" font-size="82" stroke="#000" stroke-width="1.1" stroke-linejoin="round">)</text>
<text transform="matrix(1.0031 0.0000 0.0000 0.9897 1582.3815 1218.6000)" font-family="Liberation Serif, serif" font-size="74" stroke="#000" stroke-width="1.1" stroke-linejoin="round">1<tspan dy="-29" font-size="50">st</tspan></text>
<text transform="matrix(1.0013 0.0000 0.0000 1.0515 1672.0974 1220.8765)" font-family="Liberation Serif, serif" font-size="74" stroke="#000" stroke-width="1.1" stroke-linejoin="round">cycle</text>
<text transform="matrix(1.0393 0.0000 0.0000 0.9600 1582.2821 1336.3000)" font-family="Liberation Serif, serif" font-size="74" stroke="#000" stroke-width="1.1" stroke-linejoin="round">2<tspan dy="-29" font-size="50">nd</tspan></text>
<text transform="matrix(0.9987 0.0000 0.0000 1.0368 1692.7026 1338.8118)" font-family="Liberation Serif, serif" font-size="74" stroke="#000" stroke-width="1.1" stroke-linejoin="round">cycle</text>
</svg>
</body></html>
